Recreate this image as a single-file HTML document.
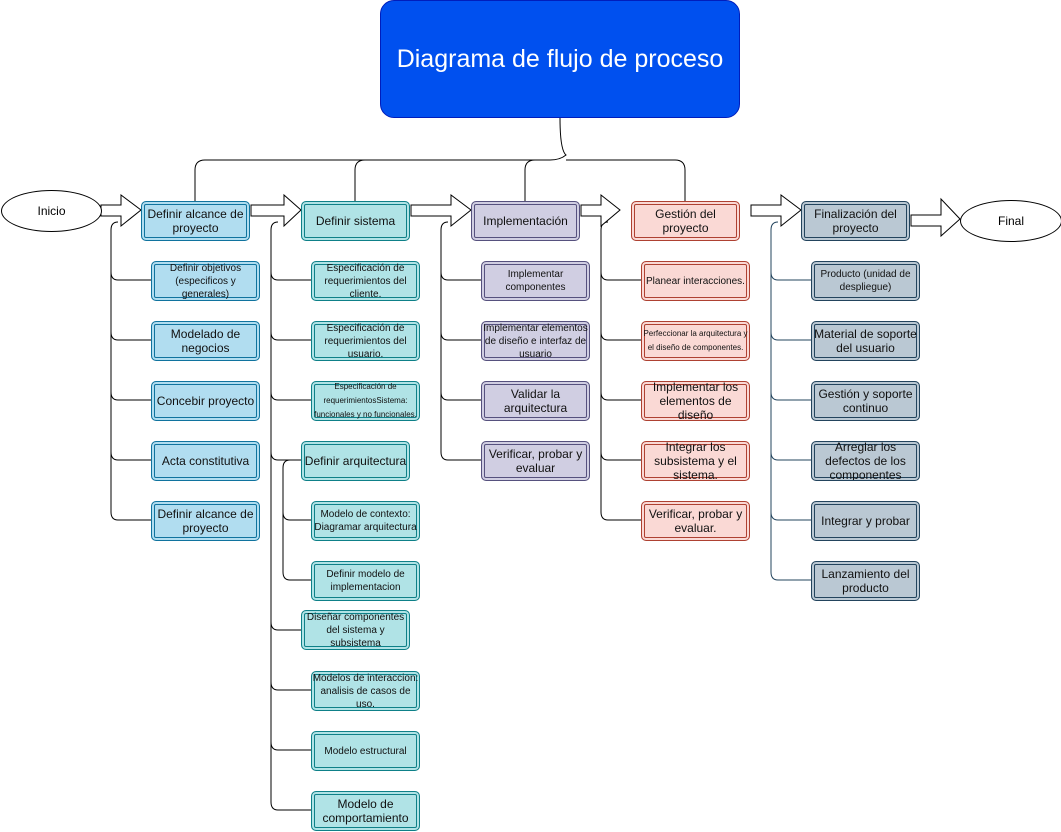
<!DOCTYPE html>
<html><head><meta charset="utf-8"><style>
body{margin:0;width:1061px;height:832px;background:#fff;position:relative;overflow:hidden;font-family:"Liberation Sans",sans-serif}
.b{position:absolute;width:105px;height:35px;border-radius:5px;display:flex;align-items:center;justify-content:center;text-align:center;font-size:12px;line-height:14px;color:#111;overflow:hidden;box-sizing:border-box}
.c1{background:#b1ddf0;border:1px solid #10739e;box-shadow:inset 0 0 0 2px #b1ddf0,inset 0 0 0 3px #10739e}
.c2{background:#b0e3e6;border:1px solid #0e8088;box-shadow:inset 0 0 0 2px #b0e3e6,inset 0 0 0 3px #0e8088}
.c3{background:#d0cee2;border:1px solid #56517e;box-shadow:inset 0 0 0 2px #d0cee2,inset 0 0 0 3px #56517e}
.c4{background:#fad9d5;border:1px solid #ae4132;box-shadow:inset 0 0 0 2px #fad9d5,inset 0 0 0 3px #ae4132}
.c5{background:#bac8d3;border:1px solid #23445d;box-shadow:inset 0 0 0 2px #bac8d3,inset 0 0 0 3px #23445d}
.m{width:109px;height:40px}
.s{width:109px;height:40px}
.f10{font-size:10px;line-height:13px}
.f8{font-size:8px;line-height:14px}
.e{position:absolute;border:1px solid #000;border-radius:50%;background:#fff;display:flex;align-items:center;justify-content:center;font-size:12px}
</style></head><body>
<svg width="1061" height="832" style="position:absolute;left:0;top:0" fill="none" stroke="#000" stroke-width="1">
<path d="M560 118 Q560 150 566 155 Q560 160 550 160 H205 Q195 160 195 170 V201"/>
<path d="M566 160 H675 Q685 160 685 170 V201"/>
<path d="M365 160 Q355 160 355 170 V201"/>
<path d="M535 160 Q525 160 525 170 V201"/>
<path d="M118 222 Q111 222 111 230 V512 Q111 520 118 520 H151"/>
<path d="M111 272 Q111 280 118 280 H151 M111 332 Q111 340 118 340 H151 M111 392 Q111 400 118 400 H151 M111 452 Q111 460 118 460 H151"/>
<path d="M278 222 Q271 222 271 230 V802 Q271 810 278 810 H311"/>
<path d="M271 272 Q271 280 278 280 H311 M271 332 Q271 340 278 340 H311 M271 392 Q271 400 278 400 H311 M271 452 Q271 460 278 460 H301 M271 622 Q271 630 278 630 H301 M271 682 Q271 690 278 690 H311 M271 742 Q271 750 278 750 H311"/>
<path d="M290 460 Q283 460 283 468 V572 Q283 580 290 580 H311 M283 512 Q283 520 290 520 H311"/>
<path d="M448 222 Q441 222 441 230 V452 Q441 460 448 460 H481 M441 272 Q441 280 448 280 H481 M441 332 Q441 340 448 340 H481 M441 392 Q441 400 448 400 H481"/>
<path d="M608 222 Q601 222 601 230 V512 Q601 520 608 520 H641 M601 272 Q601 280 608 280 H641 M601 332 Q601 340 608 340 H641 M601 392 Q601 400 608 400 H641 M601 452 Q601 460 608 460 H641"/>
<path stroke="#23445d" d="M778 222 Q771 222 771 230 V572 Q771 580 778 580 H811 M771 272 Q771 280 778 280 H811 M771 332 Q771 340 778 340 H811 M771 392 Q771 400 778 400 H811 M771 452 Q771 460 778 460 H811 M771 512 Q771 520 778 520 H811"/>
<g fill="#fff">
<polygon points="101,205 121,205 121,195 141,210 121,226 121,216 101,216"/>
<polygon points="251,205 284,205 284,195 301,210 284,226 284,216 251,216"/>
<polygon points="411,205 451,205 451,195 471,210 451,226 451,216 411,216"/>
<polygon points="581,205 601,205 601,195 620,210 601,226 601,216 581,216"/>
<polygon points="751,205 781,205 781,195 801,210 781,226 781,216 751,216"/>
<polygon points="911,215 941,215 941,199 960,219 941,236 941,226 911,226"/>
</g>
</svg>
<div style="position:absolute;left:380px;top:0;width:360px;height:118px;background:#0050ef;border:1px solid #001dbc;border-radius:14px;box-sizing:border-box;display:flex;align-items:center;justify-content:center;color:#fff;font-size:25px">Diagrama de flujo de proceso</div>
<div class="e" style="left:1px;top:190px;width:99px;height:40px">Inicio</div>
<div class="e" style="left:960px;top:200px;width:100px;height:40px">Final</div>

<div class="b c1 m" style="left:141px;top:201px">Definir alcance de proyecto</div>
<div class="b c1 s f10" style="left:151px;top:261px">Definir objetivos (especificos y generales)</div>
<div class="b c1 s" style="left:151px;top:321px">Modelado de negocios</div>
<div class="b c1 s" style="left:151px;top:381px">Concebir proyecto</div>
<div class="b c1 s" style="left:151px;top:441px">Acta constitutiva</div>
<div class="b c1 s" style="left:151px;top:501px">Definir alcance de proyecto</div>

<div class="b c2 m" style="left:301px;top:201px">Definir sistema</div>
<div class="b c2 s f10" style="left:311px;top:261px">Especificación de requerimientos del cliente.</div>
<div class="b c2 s f10" style="left:311px;top:321px">Especificación de requerimientos del usuario.</div>
<div class="b c2 s f8" style="left:311px;top:381px">Especificación de requerimientosSistema: funcionales y no funcionales.</div>
<div class="b c2 m" style="left:301px;top:441px">Definir arquitectura</div>
<div class="b c2 s f10" style="left:311px;top:501px">Modelo de contexto: Diagramar arquitectura</div>
<div class="b c2 s f10" style="left:311px;top:561px">Definir modelo de implementacion</div>
<div class="b c2 m f10" style="left:301px;top:610px">Diseñar componentes del sistema y subsistema</div>
<div class="b c2 s f10" style="left:311px;top:671px">Modelos de interaccion: analisis de casos de uso.</div>
<div class="b c2 s f10" style="left:311px;top:731px">Modelo estructural</div>
<div class="b c2 s" style="left:311px;top:791px">Modelo de comportamiento</div>

<div class="b c3 m" style="left:471px;top:201px">Implementación</div>
<div class="b c3 s f10" style="left:481px;top:261px">Implementar componentes</div>
<div class="b c3 s f10" style="left:481px;top:321px">Implementar elementos de diseño e interfaz de usuario</div>
<div class="b c3 s" style="left:481px;top:381px">Validar la arquitectura</div>
<div class="b c3 s" style="left:481px;top:441px">Verificar, probar y evaluar</div>

<div class="b c4 m" style="left:631px;top:201px">Gestión del proyecto</div>
<div class="b c4 s f10" style="left:641px;top:261px">Planear interacciones.</div>
<div class="b c4 s f8" style="left:641px;top:321px">Perfeccionar la arquitectura y el diseño de componentes.</div>
<div class="b c4 s" style="left:641px;top:381px">Implementar los elementos de diseño</div>
<div class="b c4 s" style="left:641px;top:441px">Integrar los subsistema y el sistema.</div>
<div class="b c4 s" style="left:641px;top:501px">Verificar, probar y evaluar.</div>

<div class="b c5 m" style="left:801px;top:201px">Finalización del proyecto</div>
<div class="b c5 s f10" style="left:811px;top:261px">Producto (unidad de despliegue)</div>
<div class="b c5 s" style="left:811px;top:321px">Material de soporte del usuario</div>
<div class="b c5 s" style="left:811px;top:381px">Gestión y soporte continuo</div>
<div class="b c5 s" style="left:811px;top:441px">Arreglar los defectos de los componentes</div>
<div class="b c5 s" style="left:811px;top:501px">Integrar y probar</div>
<div class="b c5 s" style="left:811px;top:561px">Lanzamiento del producto</div>
</body></html>
